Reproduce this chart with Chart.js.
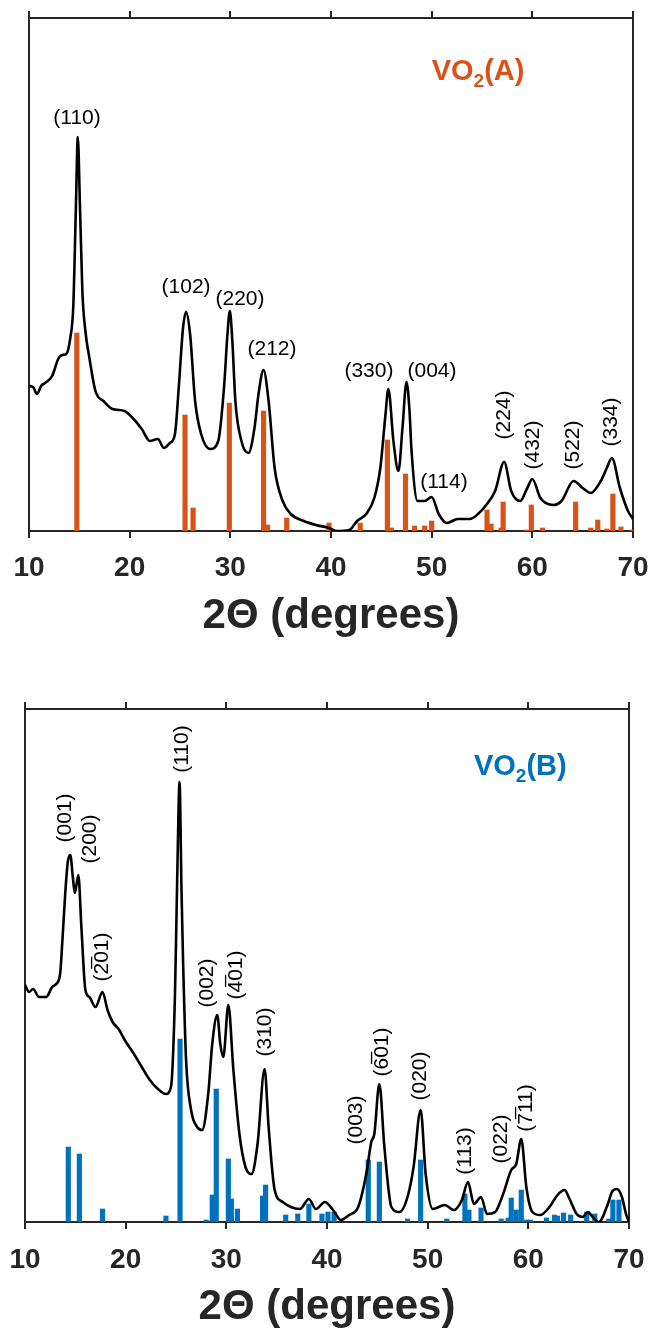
<!DOCTYPE html>
<html>
<head>
<meta charset="utf-8">
<script src="https://cdn.jsdelivr.net/npm/chart.js"></script>
<style>
  body { margin: 0; background: #fff; }
  .wrap { position: absolute; left: 0; width: 652px; }
</style>
</head>
<body>
<div class="wrap" style="top:0px;height:655px"><canvas id="chartA" width="652" height="655"></canvas></div>
<div class="wrap" style="top:655px;height:678px"><canvas id="chartB" width="652" height="678"></canvas></div>
<script>
// ---- VO2(A) measured pattern ----
const thetaA = [10.0, 10.4, 10.8, 11.2, 11.6, 12.3, 12.9, 13.3, 13.7, 14.1, 14.4, 14.65, 14.85, 15.05, 15.3, 15.6, 16.0, 16.6, 17.4, 18.3, 19.5, 20.3,
  21.2, 22.0, 22.8, 23.4, 24.0, 24.5, 24.9, 25.3, 25.6, 26.0, 26.5, 27.1, 28.0, 28.8, 29.4, 29.7, 29.95, 30.2, 30.5, 31.1,
  31.8, 32.4, 32.8, 33.3, 33.8, 34.4, 35.2, 36.0, 37.3, 38.5, 39.8, 40.6, 41.8, 42.6, 43.5, 44.3, 44.9, 45.4, 45.7, 46.2,
  46.7, 47.1, 47.5, 47.8, 48.0, 48.6, 49.3, 50.0, 50.7, 51.5, 52.6, 53.8, 54.6, 55.5, 56.3, 57.2, 57.9, 58.8, 59.5, 60.0,
  60.8, 62.1, 62.9, 64.1, 65.0, 65.8, 66.8, 67.4, 67.9, 68.7, 69.5, 70.0];
const countsA = [145, 144, 137, 145, 148, 155, 172, 176, 177, 193, 225, 320, 394, 330, 240, 200, 173, 140, 130, 122, 120, 113,
  102, 90, 92, 83, 88, 97, 147, 203, 219, 197, 130, 97, 82, 90, 147, 195, 220, 190, 130, 90,
  78, 103, 137, 161, 130, 63, 30, 17, 10, 6, 3, 0, 1, 10, 17, 33, 63, 115, 142, 90,
  60, 103, 149, 120, 80, 30, 30, 34, 17, 8, 12, 12, 17, 27, 40, 69, 40, 30, 43, 52,
  33, 26, 30, 50, 43, 38, 50, 63, 73, 43, 20, 12];
// reference lines VO2(A)
const refThetaA = [14.75, 25.5, 26.3, 29.9, 33.3, 33.7, 35.6, 39.8, 42.9, 45.6, 46.0, 47.4, 48.3, 49.3, 50.0,
  55.5, 55.9, 56.9, 57.1, 59.4, 59.9, 61.0, 64.3, 65.8, 66.5, 67.4, 68.0, 68.8, 69.9];
const refCountsA = [198, 116, 23, 128, 120, 6, 13, 8, 8, 91, 3, 57, 5, 5, 10,
  21, 7, 3, 29, 1, 26, 3, 29, 3, 11, 2, 37, 4, 1];
// hkl labels VO2(A)
const hklA = ['(110)', '(102)', '(220)', '(212)', '(330)', '(004)', '(114)', '(224)', '(432)', '(522)', '(334)'];
const hklThetaA = [14.77, 25.6, 30.96, 34.14, 43.77, 50.03, 51.22, 57.18, 60.06, 64.04, 67.81];
const hklCountsA = [413, 244, 232, 182, 160, 160, 49, 116, 86, 86, 109];
const hklRotA = [false, false, false, false, false, false, false, true, true, true, true];

// ---- VO2(B) measured pattern ----
const thetaB = [10.0, 10.4, 10.8, 11.4, 12.1, 12.7, 13.1, 13.5, 13.7, 14.0, 14.25, 14.5, 14.75, 14.95, 15.3, 15.6, 16.0, 16.4, 17.0, 17.7,
  18.2, 18.7, 19.3, 19.9, 20.7, 21.6, 22.4, 23.2, 24.0, 24.5, 24.9, 25.15, 25.35, 25.55, 25.7, 26.0, 26.5, 27.1, 27.6, 28.2,
  28.6, 29.1, 29.4, 29.7, 30.2, 30.7, 31.3, 31.9, 32.5, 33.1, 33.8, 34.2, 34.8, 35.6, 36.4, 37.3, 38.2, 38.9, 39.8, 40.6,
  41.4, 42.2, 43.1, 43.9, 44.4, 44.7, 45.2, 45.7, 46.4, 47.2, 48.0, 48.6, 49.3, 49.8, 50.5, 51.7, 52.6, 53.4, 54.0, 54.6,
  55.3, 55.9, 56.7, 57.5, 58.3, 58.8, 59.3, 59.8, 60.4, 61.2, 62.1, 62.9, 63.6, 64.1, 64.8, 65.4, 65.9, 66.4, 67.0, 67.9,
  68.3, 68.8, 69.3, 69.7, 70.0];
const countsB = [237, 230, 233, 225, 225, 235, 238, 249, 279, 329, 360, 367, 345, 329, 347, 295, 232, 225, 215, 230,
  212, 200, 193, 182, 170, 155, 142, 133, 128, 135, 228, 360, 440, 330, 262, 162, 112, 95, 92, 128,
  178, 207, 178, 165, 217, 152, 88, 55, 48, 78, 153, 95, 32, 20, 15, 13, 23, 13, 20, 12,
  2, 7, 15, 48, 80, 88, 138, 75, 15, 10, 25, 55, 112, 48, 13, 17, 12, 22, 40, 18,
  25, 8, 10, 28, 52, 58, 83, 35, 10, 7, 15, 27, 32, 23, 8, 5, 10, 5, 0, 18,
  30, 33, 25, 8, 0];
// reference lines VO2(B)
const refThetaB = [14.3, 15.4, 17.7, 24.0, 25.4, 28.0, 28.6, 29.0, 30.2, 30.5, 31.1, 33.6, 33.9, 35.9, 37.1,
  38.2, 39.5, 40.1, 40.7, 44.1, 45.2, 48.0, 49.3, 51.9, 53.7, 54.1, 55.3, 57.3, 58.0, 58.3,
  58.8, 59.3, 59.8, 60.2, 61.8, 62.6, 62.9, 63.5, 64.2, 65.8, 66.6, 68.0, 68.4, 69.0];
const refCountsB = [75, 68, 13, 6, 183, 2, 27, 133, 63, 23, 13, 26, 37, 7, 8,
  18, 8, 10, 10, 62, 60, 3, 62, 3, 28, 12, 14, 3, 4, 24,
  12, 32, 2, 2, 4, 7, 6, 9, 7, 10, 8, 3, 22, 22];
// hkl labels VO2(B)
const hklB = ['(001)', '(200)', '(2\u030501)', '(110)', '(002)', '(4\u030501)', '(310)', '(003)', '(6\u030501)', '(020)', '(113)', '(022)', '(7\u030511)'];
const hklThetaB = [13.97, 16.46, 17.65, 25.6, 28.08, 30.96, 33.84, 42.88, 45.46, 49.24, 53.71, 57.28, 59.77];
const hklCountsB = [404, 383, 265, 473, 239, 247, 190, 102, 170, 146, 71, 83, 114];

const axisColor = '#262626';
Chart.defaults.font.family = "'Liberation Sans', Arial, sans-serif";

// draws hkl labels and the phase name in data coordinates
const labelPlugin = {
  id: 'hklLabels',
  afterDatasetsDraw(chart) {
    const o = chart.options.plugins.hklLabels;
    const ctx = chart.ctx;
    const xs = chart.scales.x, ys = chart.scales.y;
    ctx.save();
    ctx.fillStyle = '#000';
    ctx.font = "21px 'Liberation Sans', 'DejaVu Sans', Arial, sans-serif";
    ctx.textAlign = 'center';
    ctx.textBaseline = 'middle';
    for (let i = 0; i < o.text.length; i++) {
      const px = xs.getPixelForValue(o.theta[i]);
      const py = ys.getPixelForValue(o.counts[i]);
      ctx.save();
      ctx.translate(px, py);
      if (o.rot[i]) ctx.rotate(-Math.PI / 2);
      ctx.fillText(o.text[i], 0, 0);
      ctx.restore();
    }
    // phase name e.g. VO2(A) with subscript
    let px = xs.getPixelForValue(o.phaseTheta);
    const py = ys.getPixelForValue(o.phaseCounts);
    ctx.fillStyle = o.color;
    ctx.textAlign = 'left';
    ctx.textBaseline = 'alphabetic';
    ctx.font = "bold 29px 'Liberation Sans', Arial, sans-serif";
    ctx.fillText('VO', px, py);
    px += ctx.measureText('VO').width;
    ctx.font = "bold 19px 'Liberation Sans', Arial, sans-serif";
    ctx.fillText('2', px, py + 7);
    px += ctx.measureText('2').width;
    ctx.font = "bold 29px 'Liberation Sans', Arial, sans-serif";
    ctx.fillText(o.phase, px, py);
    ctx.restore();
  }
};

function makeChart(id, p) {
  const line = p.theta.map((t, i) => ({x: t, y: p.counts[i]}));
  const bars = p.refTheta.map((t, i) => ({x: t, y: p.refCounts[i]}));
  return new Chart(document.getElementById(id), {
    type: 'line',
    data: {
      datasets: [
        {
          type: 'line',
          data: line,
          borderColor: '#000',
          borderWidth: 2.6,
          pointRadius: 0,
          cubicInterpolationMode: 'monotone',
          order: 0
        },
        {
          type: 'bar',
          data: bars,
          backgroundColor: p.color,
          barThickness: 4.5,
          grouped: false,
          order: 1
        }
      ]
    },
    options: {
      responsive: false,
      animation: false,
      layout: { padding: p.padding, autoPadding: false },
      plugins: {
        legend: { display: false },
        tooltip: { enabled: false },
        hklLabels: {
          text: p.hkl, theta: p.hklTheta, counts: p.hklCounts, rot: p.hklRot,
          phase: p.phase, phaseTheta: p.phaseTheta, phaseCounts: p.phaseCounts, color: p.color
        }
      },
      scales: {
        x: {
          type: 'linear', position: 'bottom', min: 10, max: 70, offset: false,
          ticks: { stepSize: 10, color: axisColor, padding: p.tickPad, maxRotation: 0,
                   font: { size: 28, weight: 'bold' } },
          grid: { drawOnChartArea: false, drawTicks: true, tickLength: 7, lineWidth: 2, color: axisColor, offset: false },
          border: { display: true, color: axisColor, width: 2 },
          title: { display: true, text: '2\u0398 (degrees)', color: axisColor,
                   font: { size: 42, weight: 'bold' }, padding: { top: 0, bottom: p.titlePad } },
          afterFit: s => { s.height = p.xHeight; s.paddingLeft = 0; s.paddingRight = 0; }
        },
        x2: {
          type: 'linear', position: 'top', min: 10, max: 70, offset: false,
          ticks: { stepSize: 10, display: false },
          grid: { drawOnChartArea: false, drawTicks: true, tickLength: 7, lineWidth: 2, color: axisColor, offset: false },
          border: { display: true, color: axisColor, width: 2 },
          afterFit: s => { s.height = 7; s.paddingLeft = 0; s.paddingRight = 0; }
        },
        y: {
          type: 'linear', position: 'left', min: 0, max: 513,
          ticks: { display: false },
          grid: { display: false },
          border: { display: true, color: axisColor, width: 2 },
          afterFit: s => { s.width = 0; s.paddingTop = 0; s.paddingBottom = 0; }
        },
        y2: {
          type: 'linear', position: 'right', min: 0, max: 513,
          ticks: { display: false },
          grid: { display: false },
          border: { display: true, color: axisColor, width: 2 },
          afterFit: s => { s.width = 0; s.paddingTop = 0; s.paddingBottom = 0; }
        }
      }
    },
    plugins: [labelPlugin]
  });
}

makeChart('chartA', {
  theta: thetaA, counts: countsA, refTheta: refThetaA, refCounts: refCountsA,
  hkl: hklA, hklTheta: hklThetaA, hklCounts: hklCountsA, hklRot: hklRotA,
  phase: '(A)', phaseTheta: 50.0, phaseCounts: 451, color: '#D95319',
  padding: { left: 29, right: 19, top: 11, bottom: 0 },
  xHeight: 124, tickPad: 13, titlePad: 13
});

makeChart('chartB', {
  theta: thetaB, counts: countsB, refTheta: refThetaB, refCounts: refCountsB,
  hkl: hklB, hklTheta: hklThetaB, hklCounts: hklCountsB, hklRot: hklB.map(() => true),
  phase: '(B)', phaseTheta: 54.6, phaseCounts: 447, color: '#0072BD',
  padding: { left: 25, right: 23, top: 47, bottom: 0 },
  xHeight: 111, tickPad: 14, titlePad: 0
});
</script>
</body>
</html>
